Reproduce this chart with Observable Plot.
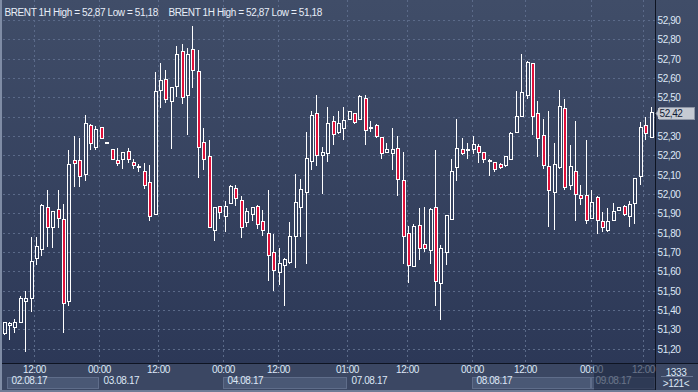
<!DOCTYPE html>
<html><head><meta charset="utf-8">
<script src="https://cdn.jsdelivr.net/npm/d3@7"></script>
<script src="https://cdn.jsdelivr.net/npm/@observablehq/plot@0.6"></script>
<style>
html,body{margin:0;padding:0;background:#34405a;}
#chart{width:698px;height:392px;overflow:hidden;}
</style></head><body><div id="chart"></div>
<script>
// ---- data (hourly candles, index 0..120) ----
const opens  = [51.28,51.32,51.31,51.34,51.445,51.46,51.67,51.715,51.925,51.83,51.915,51.865,51.445,52.17,52.17,52.105,52.35,52.245,52.34,52.265,52.225,52.17,52.18,52.215,52.16,52.14,52.115,52.055,51.895,52.54,52.59,52.48,52.56,52.735,52.51,52.745,52.63,52.265,52.19,51.815,51.935,51.885,51.955,52.025,51.965,51.855,51.895,51.935,51.855,51.795,51.695,51.595,51.635,51.65,51.785,51.935,52.01,52.17,52.415,52.20,52.21,52.37,52.32,52.34,52.39,52.415,52.39,52.49,52.34,52.35,52.29,52.215,52.21,52.235,52.065,51.795,51.625,51.835,51.735,51.71,51.925,51.54,51.70,51.87,52.14,52.225,52.225,52.235,52.245,52.21,52.17,52.16,52.15,52.15,52.18,52.32,52.405,52.51,52.67,52.415,52.30,52.14,52.01,52.14,52.44,52.045,52.115,51.99,51.99,51.875,51.98,51.855,51.815,51.865,51.915,51.935,51.885,51.955,52.095,52.35,52.295];
const highs  = [51.34,51.34,51.355,51.47,51.50,51.775,51.775,51.95,52.02,51.905,52.02,51.95,52.23,52.30,52.29,52.41,52.36,52.35,52.34,52.265,52.225,52.24,52.21,52.24,52.18,52.155,52.16,52.15,52.63,52.68,52.64,52.55,52.765,52.775,52.755,52.87,52.745,52.34,52.28,51.935,51.935,51.965,52.045,52.045,51.99,51.925,51.925,51.945,51.915,52.02,51.795,51.72,51.67,51.855,52.105,52.08,52.32,52.43,52.51,52.245,52.45,52.405,52.43,52.45,52.43,52.415,52.51,52.51,52.38,52.36,52.29,52.265,52.34,52.30,52.215,51.835,51.845,51.93,51.935,51.925,52.225,51.735,51.885,52.18,52.39,52.29,52.265,52.30,52.26,52.21,52.18,52.16,52.16,52.19,52.32,52.535,52.725,52.69,52.67,52.48,52.39,52.43,52.265,52.54,52.49,52.255,52.38,52.045,52.28,52.02,51.99,51.905,51.925,51.955,51.935,51.945,51.965,52.085,52.37,52.40,52.45];
const lows   = [51.27,51.245,51.28,51.34,51.18,51.39,51.635,51.68,51.725,51.72,51.825,51.28,51.42,52.035,52.035,52.065,52.225,52.225,52.29,52.265,52.18,52.145,52.13,52.16,52.13,52.115,52.025,51.86,51.895,52.445,52.47,52.235,52.50,52.465,52.305,52.55,52.085,52.125,51.83,51.755,51.87,51.805,51.955,51.94,51.77,51.83,51.86,51.82,51.785,51.55,51.50,51.53,51.42,51.64,51.615,51.775,51.64,52.125,52.145,52.00,52.165,52.255,52.31,52.28,52.39,52.36,52.39,52.255,52.32,52.29,52.18,52.215,52.125,51.99,51.64,51.54,51.625,51.66,51.70,51.64,51.42,51.35,51.635,51.87,52.065,52.20,52.18,52.205,52.16,52.16,52.095,52.115,52.13,52.14,52.18,52.32,52.405,52.49,52.305,52.19,52.13,51.83,51.815,52.13,52.02,52.02,51.86,51.945,51.845,51.875,51.795,51.805,51.805,51.865,51.915,51.885,51.83,51.845,52.045,52.28,52.295];
const closes = [51.33,51.325,51.33,51.455,51.455,51.65,51.725,51.94,51.83,51.905,51.875,51.435,52.15,52.16,52.095,52.36,52.265,52.33,52.29,52.265,52.18,52.16,52.21,52.18,52.15,52.14,52.045,51.885,52.53,52.585,52.49,52.55,52.72,52.50,52.72,52.64,52.245,52.18,51.83,51.925,51.905,51.935,52.035,51.98,51.83,51.905,51.925,51.845,51.815,51.685,51.605,51.64,51.66,51.775,51.955,52.02,52.18,52.405,52.20,52.21,52.36,52.31,52.36,52.38,52.425,52.37,52.50,52.33,52.34,52.30,52.21,52.225,52.225,52.075,51.785,51.635,51.83,51.72,51.72,51.915,51.55,51.715,51.885,52.115,52.235,52.21,52.225,52.255,52.215,52.18,52.17,52.13,52.14,52.19,52.31,52.40,52.52,52.68,52.405,52.29,52.15,52.02,52.15,52.45,52.035,52.14,52.00,51.98,51.865,51.955,51.865,51.83,51.855,51.905,51.925,51.895,51.945,52.075,52.34,52.315,52.42];

const yTickValues = [51.2,51.3,51.4,51.5,51.6,51.7,51.8,51.9,52.0,52.1,52.2,52.3,52.4,52.5,52.6,52.7,52.8,52.9];
const yTickLabels = ["51,20","51,30","51,40","51,50","51,60","51,70","51,80","51,90","52,00","52,10","52,20","52,30","52,40","52,50","52,60","52,70","52,80","52,90"];
const timeTickPos    = [5.7, 17.7, 28.7, 40.6, 50.8, 63.7, 74.9, 86.9, 96.8, 108.9, 118.6];
const timeTickLabels = ["12:00","00:00","12:00","00:00","12:00","01:00","12:00","00:00","12:00","00:00","12:00"];
const dayStarts = [0.67, 17.7, 40.6, 63.7, 86.9, 108.9];
const dayEnds   = [17.7, 40.6, 63.7, 86.9, 108.9, 120.9];
const dayLabels = ["02.08.17","03.08.17","04.08.17","07.08.17","08.08.17","09.08.17"];
const dayShaded = [true, false, true, false, true, true];
const symbolName = "BRENT 1H";
const barTotal = "1333";
const barVisible = ">121<";

// ---- derived tables ----
const candles = opens.map((o, i) => ({k: i, o, h: highs[i], l: lows[i], c: closes[i]}));
const up = candles.filter(d => d.c >= d.o);
const down = candles.filter(d => d.c < d.o);
const fmt = v => v.toFixed(2).replace(".", ",");
const titleText = `${symbolName} High = ${fmt(d3.max(highs))} Low = ${fmt(d3.min(lows))}`;
const lastClose = closes[closes.length - 1];
const timeTicks = timeTickPos.map((k, i) => ({k, label: timeTickLabels[i]}));
const days = dayLabels.map((label, i) => ({k1: dayStarts[i], k2: dayEnds[i], label, shaded: dayShaded[i]}));
const yTicks = yTickValues.map((v, i) => ({v, label: yTickLabels[i]}));
// labels hidden behind the last-price marker are not drawn
const yTickLabelsShown = yTicks.filter(d => Math.abs(d.v - lastClose) > 0.04);

const RED = "#e0103a";
const TXT = "#dde7f6";
const GRID = "#5b6a89";
const CRISP = "crispEdges";

const plot = Plot.plot({
  width: 698, height: 392,
  marginLeft: 3, marginRight: 43, marginTop: 0, marginBottom: 29,
  x: {domain: [-0.13, 120.83], axis: null, round: true},
  y: {domain: [51.1256, 53.0035], axis: null, round: true},
  style: {background: "linear-gradient(to bottom, #404d68 0%, #2c3857 93%)", fontFamily: "'Liberation Sans', Arial, sans-serif", fontSize: "10px", letterSpacing: "-0.4px", overflow: "hidden"},
  marks: [
    // bottom panel + outer borders
    (index, scales, values, dim) => {
      const g = d3.create("svg:g").attr("shape-rendering", "crispEdges");
      const bottom = dim.height - dim.marginBottom;
      g.append("rect").attr("x", 0).attr("y", bottom).attr("width", dim.width).attr("height", dim.marginBottom).attr("fill", "#3b4763");
      g.append("rect").attr("x", 0).attr("y", 0).attr("width", 2).attr("height", dim.height).attr("fill", "#7f8ca5");
      g.append("rect").attr("x", 0).attr("y", dim.height - 2).attr("width", dim.width).attr("height", 2).attr("fill", "#6f7c96");
      return g.node();
    },
    Plot.ruleY(yTicks, {y: "v", stroke: GRID, strokeDasharray: "2,3", shapeRendering: CRISP}),
    Plot.ruleX(timeTicks, {x: "k", stroke: GRID, strokeDasharray: "2,3", shapeRendering: CRISP}),
    // wicks
    Plot.ruleX(candles, {x: "k", y1: d => Math.max(d.o, d.c), y2: "h", stroke: "white", clip: true, shapeRendering: CRISP}),
    Plot.ruleX(candles, {x: "k", y1: "l", y2: d => Math.min(d.o, d.c), stroke: "white", clip: true, shapeRendering: CRISP}),
    // bodies
    Plot.rect(up, {x1: "k", x2: "k", y1: "o", y2: "c", insetLeft: -1, insetRight: -2, insetTop: -1, insetBottom: 0, fill: "none", stroke: "white", clip: true, shapeRendering: CRISP}),
    Plot.rect(down, {x1: "k", x2: "k", y1: "o", y2: "c", insetLeft: -1, insetRight: -2, insetTop: -1, insetBottom: 0, fill: RED, stroke: "white", clip: true, shapeRendering: CRISP}),
    // axis lines + date boxes
    (index, scales, values, dim) => {
      const g = d3.create("svg:g").attr("shape-rendering", "crispEdges");
      const bottom = dim.height - dim.marginBottom;
      const right = dim.width - dim.marginRight;
      days.forEach(d => {
        if (!d.shaded) return;
        const x1 = scales.x(d.k1), x2 = Math.min(scales.x(d.k2), right);
        g.append("rect").attr("x", x1 + 0.5).attr("y", bottom + 14.5).attr("width", x2 - x1 - 1).attr("height", 11)
          .attr("fill", "#4a5875").attr("stroke", "#5f6d8a");
      });
      g.append("line").attr("x1", right + 0.5).attr("x2", right + 0.5).attr("y1", 0).attr("y2", dim.height - 2).attr("stroke", "#0e1422");
      g.append("line").attr("x1", 2).attr("x2", dim.width).attr("y1", bottom + 0.5).attr("y2", bottom + 0.5).attr("stroke", "#0e1422");
      return g.node();
    },
    Plot.text(timeTicks, {x: "k", text: "label", frameAnchor: "bottom", dy: 9, fill: TXT}),
    Plot.text(days, {x: "k1", text: "label", frameAnchor: "bottom", dy: 20, dx: 4, textAnchor: "start", fill: TXT}),
    Plot.text(yTickLabelsShown, {y: "v", text: "label", frameAnchor: "right", dx: 2, dy: 0.5, textAnchor: "start", fill: TXT}),
    Plot.text([titleText], {text: d => d, frameAnchor: "top-left", dx: 1, dy: 8, textAnchor: "start", fill: "#e8eef8"}),
    Plot.text([titleText], {text: d => d, frameAnchor: "top-left", dx: 165, dy: 8, textAnchor: "start", fill: "#e8eef8"}),
    // overlay, price marker background, corner counters
    (index, scales, values, dim) => {
      const g = d3.create("svg:g");
      const bottom = dim.height - dim.marginBottom;
      const right = dim.width - dim.marginRight;
      const ox = scales.x(dayStarts[dayStarts.length - 1]) + 3;
      g.append("rect").attr("x", ox).attr("y", bottom + 1).attr("width", right - ox).attr("height", dim.marginBottom - 3)
        .attr("fill", "#1c2640").attr("fill-opacity", 0.6);
      const y = Math.round(scales.y(lastClose));
      g.append("polygon").attr("points", `${right + 1},${y + 0.5} ${right + 5},${y - 5.5} ${right + 5},${y + 6.5}`)
        .attr("fill", "#c5cad3").attr("stroke", "#8d95a5");
      g.append("rect").attr("x", right + 4.5).attr("y", y - 5.5).attr("width", 35).attr("height", 12)
        .attr("fill", "#c5cad3").attr("stroke", "#8d95a5").attr("shape-rendering", "crispEdges");
      g.append("rect").attr("x", right + 3).attr("y", y - 5).attr("width", 3).attr("height", 11).attr("fill", "#c5cad3");
      g.append("text").attr("x", right + 21).attr("y", bottom + 9).attr("dy", "0.35em").attr("text-anchor", "middle").attr("fill", TXT).text(barTotal);
      g.append("line").attr("x1", right + 6).attr("x2", dim.width - 5).attr("y1", bottom + 13.5).attr("y2", bottom + 13.5).attr("stroke", "#6a7894");
      g.append("text").attr("x", right + 21).attr("y", bottom + 20).attr("dy", "0.35em").attr("text-anchor", "middle").attr("fill", TXT).text(barVisible);
      return g.node();
    },
    // last price label
    Plot.text([lastClose], {y: d => d, text: d => fmt(d), frameAnchor: "right", dx: 4, dy: 0.5, textAnchor: "start", fill: "#101a33"})
  ]
});
document.getElementById("chart").appendChild(plot);
</script>
</body></html>
